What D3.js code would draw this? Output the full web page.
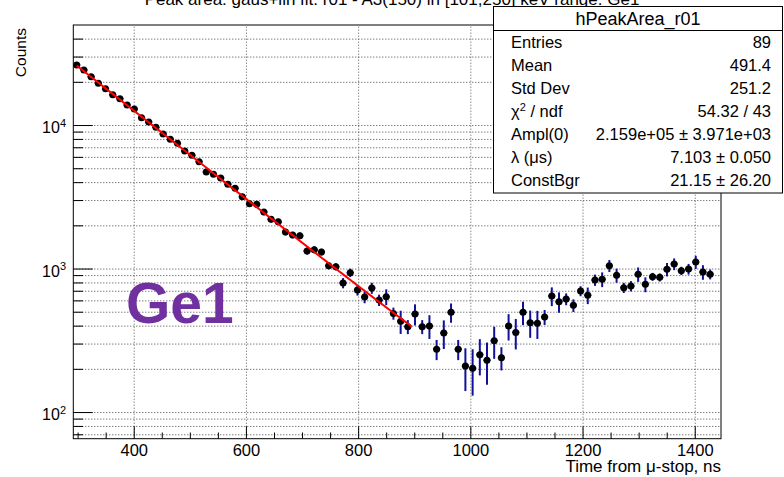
<!DOCTYPE html>
<html>
<head>
<meta charset="utf-8">
<script src="https://cdn.jsdelivr.net/npm/d3@7"></script>
<style>
  body { margin: 0; background: #fff; }
  svg { display: block; }
  text { font-family: "Liberation Sans", Arial, Helvetica, sans-serif; fill: #000; }
</style>
</head>
<body>
<div id="chart"></div>
<script>
// Bin centres of the peak-area histogram (ns after muon stop)
const timeNs = [
  298.4, 311.2, 324.1, 336.9, 349.7, 362.6, 375.4, 388.2, 401.0, 413.9,
  426.7, 439.5, 452.4, 465.2, 478.0, 490.9, 503.7, 516.5, 529.3, 542.2,
  555.0, 567.8, 580.7, 593.5, 606.3, 619.2, 632.0, 644.8, 657.6, 670.5,
  683.3, 696.1, 709.0, 721.8, 734.6, 747.5, 760.3, 773.1, 785.9, 798.8,
  811.6, 824.4, 837.3, 850.1, 862.9, 875.8, 888.6, 901.4, 914.2, 927.1,
  939.9, 952.7, 965.6, 978.4, 991.2, 1004.1, 1016.9, 1029.7, 1042.5, 1055.4,
  1068.2, 1081.0, 1093.9, 1106.7, 1119.5, 1132.4, 1145.2, 1158.0, 1170.8, 1183.7,
  1196.5, 1209.3, 1222.2, 1235.0, 1247.8, 1260.7, 1273.5, 1286.3, 1299.1, 1312.0,
  1324.8, 1337.6, 1350.5, 1363.3, 1376.1, 1389.0, 1401.8, 1414.6, 1427.5
];
// Fitted peak area per bin
const peakArea = [
  26190, 24170, 21710, 19530, 17910, 16260, 15250, 13790, 12930, 11240,
  10490, 9640, 8655, 7950, 7457, 6590, 6150, 5550, 4704, 4533,
  4272, 3862, 3622, 3165, 2830, 2800, 2475, 2202, 2119, 1796,
  1712, 1692, 1324, 1352, 1303, 1046, 1029, 793, 935, 708,
  633, 731, 603, 636, 487, 429, 393, 482, 393, 398,
  274, 355, 495, 274, 209, 202, 251, 230, 314, 239,
  398, 359, 495, 419, 415, 459, 643, 587, 613, 554,
  697, 651, 832, 841, 1046, 897, 735, 755, 912, 776,
  877, 868, 987, 1075, 965, 992, 1110, 945, 912
];
// Uncertainty on each peak area
const peakAreaErr = [
  420, 400, 380, 360, 340, 330, 320, 300, 290, 270,
  260, 250, 240, 230, 220, 210, 200, 190, 180, 175,
  170, 160, 150, 140, 130, 130, 120, 110, 105, 95,
  90, 90, 75, 75, 70, 60, 60, 65, 63, 60,
  60, 65, 55, 80, 47, 79, 44, 81, 44, 75,
  44, 80, 76, 44, 69, 72, 71, 75, 79, 44,
  83, 86, 92, 90, 92, 55, 96, 95, 58, 56,
  56, 86, 75, 99, 100, 101, 60, 62, 105, 92,
  56, 56, 106, 101, 64, 85, 117, 110, 72
];
const binHalfWidth = 6.415;

// Exponential + constant fit: Ampl(0) * exp(-lambda * t[us]) + ConstBgr
const fitAmpl = 2.159e5;
const fitLambda = 7.103;
const fitConst = 21.15;
const fitRange = [298.4, 895];

const xDomain = [292.3, 1446.8];
const yDomain = [65.2, 49770];
const xMajorTicks = [400, 600, 800, 1000, 1200, 1400];
const xMinorTicks = [300, 350, 450, 500, 550, 650, 700, 750, 850, 900, 950, 1050, 1100, 1150, 1250, 1300, 1350];
const yDecadeTicks = [100, 1000, 10000];
const yDecadeExp = ["2", "3", "4"];
const yMinorTicks = [70, 80, 90, 200, 300, 400, 500, 600, 700, 800, 900,
  2000, 3000, 4000, 5000, 6000, 7000, 8000, 9000, 20000, 30000, 40000];

const statsTitle = "hPeakArea_r01";
const statsLabels = ["Entries", "Mean", "Std Dev", "χ2 / ndf", "Ampl(0)", "λ (μs)", "ConstBgr"];
const statsValues = ["89", "491.4", "251.2", "54.32 / 43", "2.159e+05 ± 3.971e+03", "7.103 ± 0.050", "21.15 ± 26.20"];

const plotTitle = "Peak area: gaus+lin fit: r01 - A3(150) in [101,250] keV range: Ge1";
const detectorLabel = "Ge1";

const W = 784, H = 477;
const frame = { left: 73.3, right: 721, top: 25, bottom: 438.7 };

const svg = d3.select("#chart").append("svg")
  .attr("width", W).attr("height", H);

svg.append("rect").attr("width", W).attr("height", H).attr("fill", "#fff");

const x = d3.scaleLinear().domain(xDomain).range([frame.left, frame.right]);
const y = d3.scaleLog().domain(yDomain).range([frame.bottom, frame.top]);
const fw = frame.right - frame.left, fh = frame.bottom - frame.top;

// Grid
const grid = svg.append("g").attr("class", "grid");
grid.append("g")
  .attr("transform", `translate(${frame.left},0)`)
  .call(d3.axisLeft(y).tickValues(yDecadeTicks.concat(yMinorTicks)).tickSize(-fw).tickFormat(""))
  .call(g => g.select(".domain").remove())
  .call(g => g.selectAll("line").attr("stroke", "#444").attr("stroke-dasharray", "1,2"));
grid.append("g")
  .attr("transform", `translate(0,${frame.bottom})`)
  .call(d3.axisBottom(x).tickValues(xMajorTicks).tickSize(-fh).tickFormat(""))
  .call(g => g.select(".domain").remove())
  .call(g => g.selectAll("line").attr("stroke", "#555").attr("stroke-dasharray", "1,2"));

// Frame
svg.append("rect")
  .attr("x", frame.left).attr("y", frame.top)
  .attr("width", fw).attr("height", fh)
  .attr("fill", "none").attr("stroke", "#000").attr("stroke-width", 1);

// X axis ticks and labels
svg.append("g")
  .attr("transform", `translate(0,${frame.bottom})`)
  .call(d3.axisBottom(x).tickValues(xMajorTicks).tickSize(-12.4).tickPadding(5.5).tickFormat(d3.format("d")))
  .call(g => g.select(".domain").remove())
  .call(g => g.selectAll("line").attr("stroke", "#000"))
  .call(g => g.selectAll("text").attr("font-size", 16.5).attr("font-family", null).attr("fill", "#000"));
svg.append("g")
  .attr("transform", `translate(0,${frame.bottom})`)
  .call(d3.axisBottom(x).tickValues(xMinorTicks).tickSize(-6.2).tickFormat(""))
  .call(g => g.select(".domain").remove())
  .call(g => g.selectAll("line").attr("stroke", "#000"));

// Y axis ticks
svg.append("g")
  .attr("transform", `translate(${frame.left},0)`)
  .call(d3.axisLeft(y).tickValues(yDecadeTicks).tickSize(-19.4).tickFormat(""))
  .call(g => g.select(".domain").remove())
  .call(g => g.selectAll("line").attr("stroke", "#000"));
svg.append("g")
  .attr("transform", `translate(${frame.left},0)`)
  .call(d3.axisLeft(y).tickValues(yMinorTicks).tickSize(-9.7).tickFormat(""))
  .call(g => g.select(".domain").remove())
  .call(g => g.selectAll("line").attr("stroke", "#000"));

// Y decade labels as 10^n
const yl = svg.append("g").selectAll("text").data(yDecadeTicks).join("text")
  .attr("x", 66).attr("y", d => y(d) + 8)
  .attr("text-anchor", "end").attr("font-size", 16);
yl.append("tspan").text("10");
yl.append("tspan").attr("dy", -6.5).attr("font-size", 11).text((d, i) => yDecadeExp[i]);

// Axis titles
svg.append("text")
  .attr("x", frame.right).attr("y", 472)
  .attr("text-anchor", "end").attr("font-size", 17)
  .text("Time from μ-stop, ns");
svg.append("text")
  .attr("transform", `translate(26,${frame.top + 3}) rotate(-90)`)
  .attr("text-anchor", "end").attr("font-size", 15.5)
  .text("Counts");

// Histogram points with error bars
const pts = d3.range(timeNs.length).map(i => ({ t: timeNs[i], v: peakArea[i], e: peakAreaErr[i] }));
const errColor = "#10109a";
const eb = svg.append("g").attr("stroke", errColor).attr("stroke-width", 2);
eb.selectAll("line.v").data(pts).join("line").attr("class", "v")
  .attr("x1", d => x(d.t)).attr("x2", d => x(d.t))
  .attr("y1", d => y(d.v + d.e)).attr("y2", d => y(Math.max(d.v - d.e, yDomain[0])));
eb.selectAll("line.h").data(pts).join("line").attr("class", "h")
  .attr("stroke-width", 1.6)
  .attr("x1", d => x(d.t - binHalfWidth)).attr("x2", d => x(d.t + binHalfWidth))
  .attr("y1", d => y(d.v)).attr("y2", d => y(d.v));
svg.append("g").selectAll("circle").data(pts).join("circle")
  .attr("cx", d => x(d.t)).attr("cy", d => y(d.v)).attr("r", 3.5)
  .attr("fill", "#000");

// Fit curve
const fitFn = t => fitAmpl * Math.exp(-fitLambda * t / 1000) + fitConst;
const fitT = d3.range(fitRange[0], fitRange[1], 2).concat([fitRange[1]]);
svg.append("path")
  .datum(fitT)
  .attr("fill", "none").attr("stroke", "#ff0000").attr("stroke-width", 2)
  .attr("d", d3.line().x(t => x(t)).y(t => y(fitFn(t))));

// Title (top, runs off the upper edge)
svg.append("text")
  .attr("x", 392).attr("y", 5)
  .attr("text-anchor", "middle").attr("font-size", 17)
  .text(plotTitle);

// Statistics box
const sb = svg.append("g");
sb.append("rect")
  .attr("x", 493.5).attr("y", 6.5).attr("width", 289).attr("height", 186.5)
  .attr("fill", "#fff").attr("stroke", "#000").attr("stroke-width", 1);
sb.append("line")
  .attr("x1", 493.5).attr("x2", 782.5).attr("y1", 30.5).attr("y2", 30.5)
  .attr("stroke", "#000");
sb.append("text")
  .attr("x", 638).attr("y", 25).attr("text-anchor", "middle").attr("font-size", 18)
  .text(statsTitle);
statsLabels.forEach((lab, i) => {
  const yy = 48 + i * 23;
  const t = sb.append("text").attr("x", 511).attr("y", yy).attr("font-size", 16.5);
  if (lab.startsWith("χ2")) {
    t.append("tspan").text("χ");
    t.append("tspan").attr("dy", -6).attr("font-size", 11).text("2");
    t.append("tspan").attr("dy", 6).text(" / ndf");
  } else {
    t.text(lab);
  }
  sb.append("text").attr("x", 771).attr("y", yy).attr("text-anchor", "end")
    .attr("font-size", 16.5).text(statsValues[i]);
});

// Detector label
svg.append("text")
  .attr("x", 126).attr("y", 323)
  .attr("font-size", 57).attr("font-weight", "bold")
  .style("fill", "#7030a0")
  .text(detectorLabel);
</script>
</body>
</html>
